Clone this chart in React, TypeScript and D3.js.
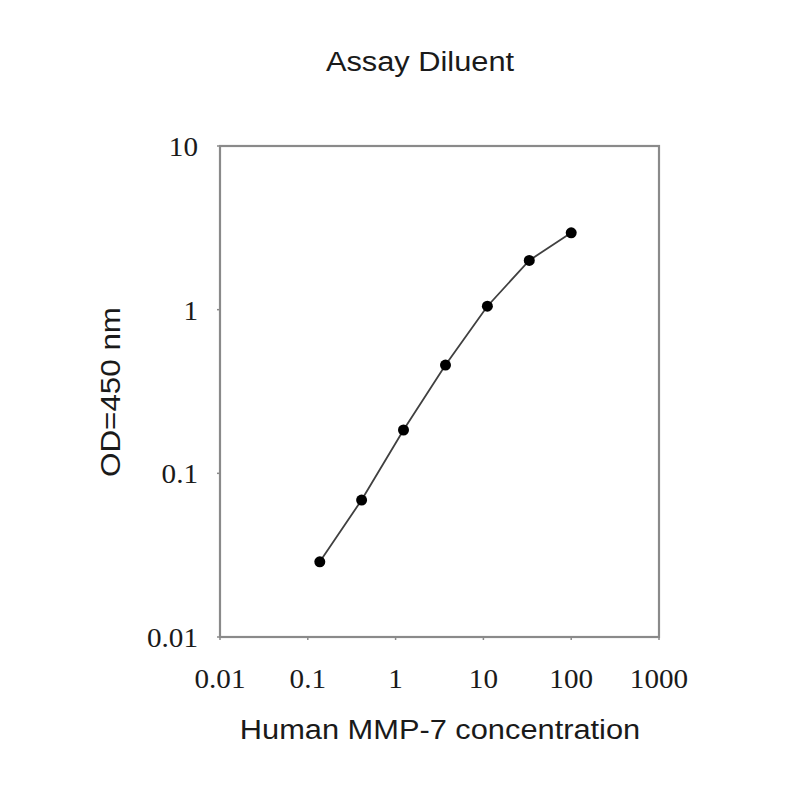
import * as d3 from 'd3';

const concentrations = [0.137, 0.41, 1.23, 3.7, 11.1, 33.3, 100];
const odValues = [0.0288, 0.0687, 0.184, 0.459, 1.05, 2.0, 2.95];
const xTicks = [0.01, 0.1, 1, 10, 100, 1000];
const yTicks = [0.01, 0.1, 1, 10];

const width = 800;
const height = 800;
const left = 220;
const right = 659;
const top = 146;
const bottom = 637;

const serif = '"Liberation Serif", "DejaVu Serif", serif';
const sans = '"Liberation Sans", Arial, sans-serif';

// the source image is slightly stretched horizontally, so text gets an x scale
function Label({ x, y, text, anchor = 'middle', font = sans, size = 28, sx = 1.1, rotate = 0 }: {
    x: number; y: number; text: string; anchor?: string; font?: string; size?: number; sx?: number; rotate?: number;
}) {
    return (
        <text
            transform={`translate(${x},${y}) rotate(${rotate}) scale(${sx},1)`}
            textAnchor={anchor}
            fontFamily={font}
            fontSize={size}
            fill="#1a1a1a"
        >
            {text}
        </text>
    );
}

function App() {
    const x = d3.scaleLog([0.01, 1000], [left, right]);
    const y = d3.scaleLog([0.01, 10], [bottom, top]);
    const pts = concentrations.map((c, i) => [x(c), y(odValues[i])] as [number, number]);
    const line = d3.line();
    const axisColor = '#8a8a8a';

    return (
        <svg width={width} height={height} style={{ position: 'absolute', left: 0, top: 0, background: '#fff' }}>
            <Label x={420} y={71} text="Assay Diluent" />
            <rect x={left} y={top} width={right - left} height={bottom - top} fill="none" stroke={axisColor} strokeWidth={2.2} />
            {xTicks.map((t) => (
                <g key={'x' + t}>
                    <line x1={x(t)} x2={x(t)} y1={bottom} y2={bottom + 3} stroke={axisColor} strokeWidth={1.5} />
                    <Label x={x(t)} y={688} text={String(t)} font={serif} size={27} sx={1.08} />
                </g>
            ))}
            {yTicks.map((t) => (
                <g key={'y' + t}>
                    <line x1={left - 3} x2={left} y1={y(t)} y2={y(t)} stroke={axisColor} strokeWidth={1.5} />
                    <Label x={198} y={y(t) + 10} text={String(t)} anchor="end" font={serif} size={27} sx={1.08} />
                </g>
            ))}
            <Label x={440} y={739} text="Human MMP-7 concentration" />
            <Label x={120} y={392} text="OD=450 nm" rotate={-90} sx={1.12} />
            <path d={line(pts) ?? undefined} fill="none" stroke="#404040" strokeWidth={1.8} />
            <g fill="#000">
                {pts.map((p, i) => (
                    <circle key={i} cx={p[0]} cy={p[1]} r={5.5} />
                ))}
            </g>
        </svg>
    );
}

export default App;
